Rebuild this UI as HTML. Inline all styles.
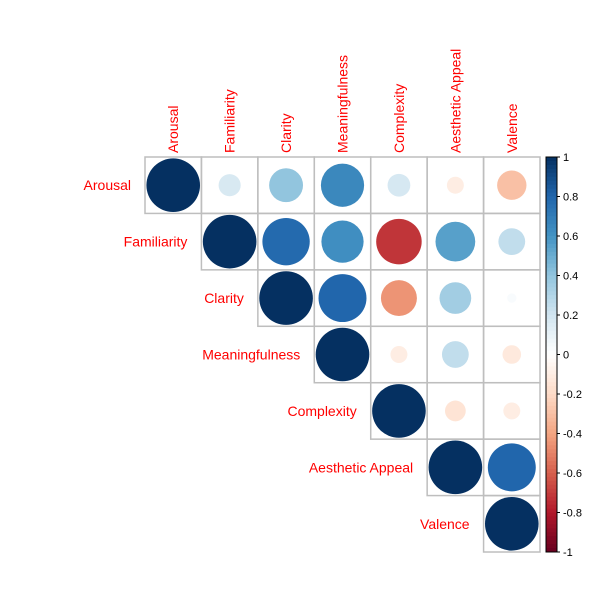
<!DOCTYPE html>
<html><head><meta charset="utf-8"><style>
body{margin:0;background:#fff;}
svg text{font-family:"Liberation Sans",sans-serif;}
</style></head><body>
<svg id="chart" width="600" height="600" viewBox="0 0 600 600" xmlns="http://www.w3.org/2000/svg"></svg>
<script>
const variables = ["Arousal","Familiarity","Clarity","Meaningfulness","Complexity","Aesthetic Appeal","Valence"];
const row0 = [1, 0.17, 0.4, 0.65, 0.18, -0.1, -0.3];
const row1 = [1, 0.78, 0.62, -0.72, 0.55, 0.25];
const row2 = [1, 0.8, -0.45, 0.35, 0.03];
const row3 = [1, -0.1, 0.25, -0.12];
const row4 = [1, -0.15, -0.1];
const row5 = [1, 0.8];
const row6 = [1];
const rows = [row0,row1,row2,row3,row4,row5,row6];
const colorbarTicks = [1,0.8,0.6,0.4,0.2,0,-0.2,-0.4,-0.6,-0.8,-1];

const svg = document.getElementById('chart');
const NS = "http://www.w3.org/2000/svg";
const x0 = 145, y0 = 157, cell = 56.43, n = variables.length;
const colX = i => x0 + i*cell;
const rowY = i => y0 + i*cell;
const stops = ["#67001F","#B2182B","#D6604D","#F4A582","#FDDBC7","#FFFFFF","#D1E5F0","#92C5DE","#4393C3","#2166AC","#053061"];
function hex(c){return [1,3,5].map(i=>parseInt(c.substr(i,2),16));}
function color(v){
  const t=(v+1)/2*10; const i=Math.min(9,Math.floor(t)); const f=t-i;
  const a=hex(stops[i]), b=hex(stops[i+1]);
  return "rgb("+a.map((x,k)=>Math.round(x+(b[k]-x)*f)).join(",")+")";
}
function el(tag, attrs){const e=document.createElementNS(NS,tag);for(const k in attrs)e.setAttribute(k,attrs[k]);svg.appendChild(e);return e;}

rows.forEach((r, i) => {
  r.forEach((v, k) => {
    const j = i + k;
    const rect = el('rect',{x:colX(j),y:rowY(i),width:cell,height:cell,fill:'none',stroke:'#BEBEBE','stroke-width':1.5});
    
    
    const c = el('circle',{cx:colX(j)+cell/2,cy:rowY(i)+cell/2,r:Math.sqrt(Math.abs(v))*cell*0.475,fill:color(v)});
    
    
  });
  const t = el('text',{x:colX(i)-14,y:rowY(i)+cell/2+5,'text-anchor':'end','font-size':14,fill:'#FF0000'});
  t.textContent = variables[i];
  
  
  const ct = el('text',{x:0,y:0,'font-size':14,fill:'#FF0000',transform:'translate('+(colX(i)+cell/2+5)+','+(y0-4)+') rotate(-90)'});
  ct.textContent = variables[i];
  
  
});

// colorbar
const cbX = 546, cbW = 11, cbTop = 157, cbBot = 552;
const cbY = v => cbTop + (1 - v)/2*(cbBot-cbTop);
for (let k=0;k<100;k++){
  const v1 = 1 - k*0.02;
  const r = el('rect',{x:cbX,y:cbY(v1),width:cbW,height:(cbBot-cbTop)/100+0.5,fill:color(v1-0.01)});
  
  
}
const border = el('rect',{x:cbX,y:cbTop,width:cbW,height:cbBot-cbTop,fill:'none',stroke:'#000','stroke-width':1});


colorbarTicks.forEach(v=>{
  const l = el('line',{x1:cbX+cbW,x2:cbX+cbW+3,y1:cbY(v),y2:cbY(v),stroke:'#000'});
  
  
  const t = el('text',{x:cbX+cbW+6,y:cbY(v)+4,'font-size':11,fill:'#000'});
  t.textContent = String(v);
  
  
});
</script>
</body></html>
